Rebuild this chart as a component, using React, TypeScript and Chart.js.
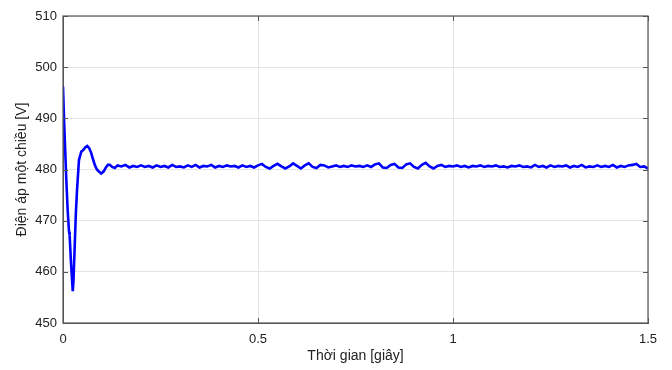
import React, { useEffect, useRef } from "react";
import { Chart, registerables } from "chart.js";

Chart.register(...registerables);

// Transient part (time in s, DC voltage in V)
const transientTime = [
  0, 0.003, 0.0085, 0.012, 0.0154, 0.017, 0.02, 0.025, 0.027, 0.03, 0.033, 0.036,
  0.041, 0.047, 0.052, 0.057, 0.062, 0.067, 0.072, 0.077, 0.082, 0.087, 0.092,
  0.098, 0.104, 0.11, 0.115, 0.12, 0.126, 0.133, 0.14,
];
const transientVoltage = [
  496.2, 489.0, 478.0, 472.0, 467.9, 467.2, 462.5, 456.2, 458.5, 465.0, 471.5, 476.0,
  481.9, 483.5, 483.8, 484.3, 484.6, 484.2, 483.3, 482.0, 480.8, 480.0, 479.6,
  479.2, 479.6, 480.4, 480.9, 480.9, 480.5, 480.3, 480.8,
];

// Steady-state part, sampled every 0.01 s from 0.15 s to 1.50 s
const steadyStart = 0.15;
const steadyStep = 0.01;
const steadyVoltage = [
  480.6, 480.9, 480.4, 480.7, 480.5, 480.8, 480.5, 480.7, 480.4, 480.8,
  480.5, 480.7, 480.4, 480.9, 480.5, 480.6, 480.4, 480.8, 480.5, 480.9,
  480.4, 480.7, 480.6, 480.9, 480.4, 480.7, 480.5, 480.8, 480.6, 480.7,
  480.4, 480.8, 480.5, 480.7, 480.4, 480.8, 481.1, 480.5, 480.2, 480.7,
  481.1, 480.6, 480.2, 480.6, 481.2, 480.7, 480.2, 480.8, 481.2, 480.5,
  480.3, 480.9, 480.8, 480.4, 480.6, 480.8, 480.5, 480.7, 480.5, 480.8,
  480.6, 480.7, 480.5, 480.8, 480.5, 481.0, 481.2, 480.4, 480.3, 480.9,
  481.1, 480.4, 480.3, 481.0, 481.2, 480.5, 480.2, 480.9, 481.3, 480.6,
  480.2, 480.7, 480.9, 480.5, 480.7, 480.6, 480.8, 480.5, 480.7, 480.4,
  480.7, 480.6, 480.8, 480.5, 480.7, 480.6, 480.8, 480.5, 480.6, 480.4,
  480.7, 480.6, 480.8, 480.5, 480.6, 480.4, 480.9, 480.5, 480.7, 480.4,
  480.8, 480.5, 480.7, 480.6, 480.8, 480.4, 480.7, 480.5, 480.9, 480.4,
  480.6, 480.5, 480.8, 480.5, 480.7, 480.5, 480.9, 480.4, 480.7, 480.5,
  480.8, 480.9, 481.1, 480.5, 480.6, 480.2,
];

const xTicks = [0, 0.5, 1, 1.5];
const yTicks = [450, 460, 470, 480, 490, 500, 510];
const xTitle = "Thời gian [giây]";
const yTitle = "Điện áp một chiều [V]";

const boxPlugin = {
  id: "boxTicks",
  afterDraw(chart: any) {
    const { ctx, chartArea } = chart;
    const { left, right, top, bottom } = chartArea;
    const xs = chart.scales.x;
    const ys = chart.scales.y;
    ctx.save();
    ctx.strokeStyle = "#555555";
    ctx.lineWidth = 1;
    ctx.beginPath();
    xTicks.forEach((t) => {
      const px = Math.round(xs.getPixelForValue(t)) + 0.5;
      ctx.moveTo(px, bottom);
      ctx.lineTo(px, bottom - 5);
      ctx.moveTo(px, top);
      ctx.lineTo(px, top + 5);
    });
    yTicks.forEach((v) => {
      const py = Math.round(ys.getPixelForValue(v)) + 0.5;
      ctx.moveTo(left, py);
      ctx.lineTo(left + 5, py);
      ctx.moveTo(right, py);
      ctx.lineTo(right - 5, py);
    });
    ctx.stroke();
    ctx.lineWidth = 1.2;
    ctx.strokeRect(left, top, right - left, bottom - top);
    ctx.restore();
  },
};

export default function App() {
  const ref = useRef<HTMLCanvasElement | null>(null);
  useEffect(() => {
    if (!ref.current) return;
    const pts: { x: number; y: number }[] = [];
    transientTime.forEach((t, i) => pts.push({ x: t, y: transientVoltage[i] }));
    steadyVoltage.forEach((v, i) =>
      pts.push({ x: +(steadyStart + i * steadyStep).toFixed(3), y: v })
    );
    const font = { family: "'Liberation Sans', Arial, sans-serif", size: 13 };
    const chart = new Chart(ref.current, {
      type: "line",
      data: {
        datasets: [
          {
            data: pts,
            borderColor: "#0000ff",
            borderWidth: 2.6,
            pointRadius: 0,
            tension: 0,
            fill: false,
          },
        ],
      },
      options: {
        animation: false,
        responsive: false,
        maintainAspectRatio: false,
        layout: { padding: { left: 0, right: 24, top: 16, bottom: 0 } },
        plugins: { legend: { display: false }, tooltip: { enabled: false } },
        scales: {
          x: {
            type: "linear",
            min: 0,
            max: 1.5,
            afterBuildTicks: (s: any) => {
              s.ticks = xTicks.map((v) => ({ value: v }));
            },
            afterFit: (s: any) => {
              s.height = 47;
            },
            ticks: {
              color: "#222222",
              font,
              padding: 9,
              maxRotation: 0,
              callback: (v: any) => String(v),
            },
            grid: { color: "#e4e4e4", drawTicks: false, lineWidth: 1 },
            border: { display: true, color: "#555555" },
            title: {
              display: true,
              text: xTitle,
              color: "#222222",
              font: { family: "'Liberation Sans', Arial, sans-serif", size: 14 },
              padding: { top: 0, bottom: 5 },
            },
          },
          y: {
            type: "linear",
            min: 450,
            max: 510,
            afterBuildTicks: (s: any) => {
              s.ticks = yTicks.map((v) => ({ value: v }));
            },
            afterFit: (s: any) => {
              s.width = 63;
            },
            ticks: {
              color: "#222222",
              font,
              padding: 6,
              callback: (v: any) => String(v),
            },
            grid: { color: "#e4e4e4", drawTicks: false, lineWidth: 1 },
            border: { display: true, color: "#555555" },
            title: {
              display: true,
              text: yTitle,
              color: "#222222",
              font: { family: "'Liberation Sans', Arial, sans-serif", size: 14 },
              padding: { top: 14, bottom: 0 },
            },
          },
        },
      },
      plugins: [boxPlugin],
    });
    return () => chart.destroy();
  }, []);
  return (
    <div style={{ position: "fixed", left: 0, top: 0, width: 672, height: 370, background: "#fff" }}>
      <canvas ref={ref} width={672} height={370} style={{ width: 672, height: 370 }} />
    </div>
  );
}
